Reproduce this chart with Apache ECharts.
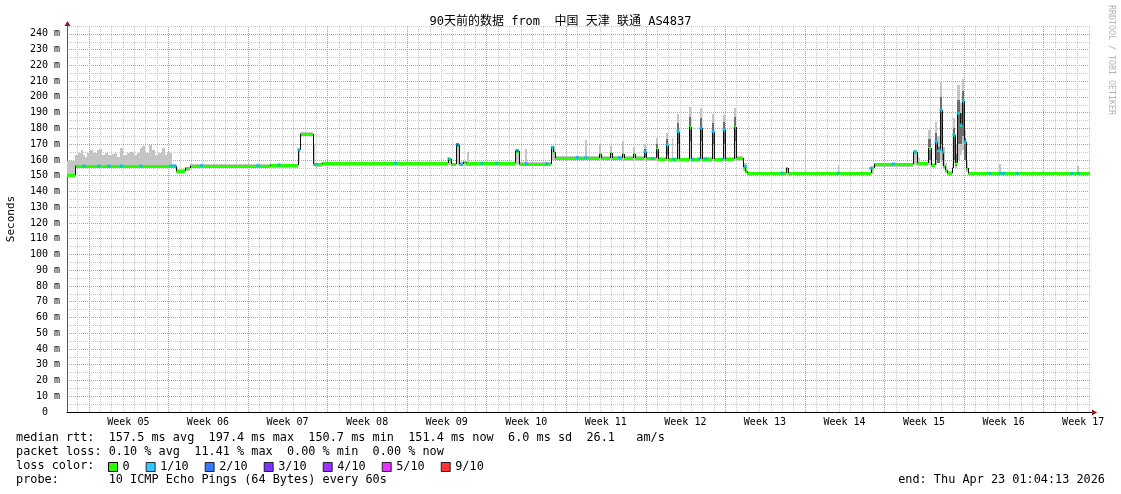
<!DOCTYPE html>
<html><head><meta charset="utf-8">
<script src="https://cdn.jsdelivr.net/npm/echarts@6/dist/echarts.min.js"></script>
<style>html,body{margin:0;padding:0;background:#fff}#c{width:1121px;height:494px}</style>
</head><body><div id="c"></div>
<script>
// ---------------- data ----------------
const titleText = '90天前的数据 from  中国 天津 联通 AS4837';
const weekLabels = ['Week 05','Week 06','Week 07','Week 08','Week 09','Week 10','Week 11','Week 12','Week 13','Week 14','Week 15','Week 16','Week 17'];
const weekStartDays = [1.9, 8.9, 15.9, 22.9, 29.9, 36.9, 43.9, 50.9, 57.9, 64.9, 71.9, 78.9, 85.9];
const firstDayLine = 0.9;
const spanDays = 90;
const yMax = 245;
const lossLabels = ['0','1/10','2/10','3/10','4/10','5/10','9/10'];
const lossColors = ['#26ff00','#00b8ff','#0059ff','#5e00ff','#7e00ff','#dd00ff','#ff0000'];

// median rtt, step change points [day, ms]
const medianSteps = [
 [0,150.7],[0.7,156.2],[9.6,153.2],[10.4,154.6],[10.8,156.4],[17.9,156.9],
 [20.3,166.5],[20.5,176.7],[21.64,157.2],[22.44,158.0],
 [33.52,160.8],[33.8,157.5],[34.22,169.7],[34.49,157.3],[34.84,158.7],[35.1,157.9],
 [39.42,165.9],[39.77,157.7],[42.58,168.0],[42.8,164.8],[42.93,161.5],
 [46.81,163.6],[46.98,161.5],[47.77,164.2],[47.95,161.5],[48.83,164.0],[49.0,161.3],
 [49.8,163.8],[49.97,161.3],[50.77,165.3],[50.94,161.0],[51.82,167.0],[52.0,160.8],
 [52.7,169.5],[52.88,160.5],[53.67,178.0],[53.85,160.3],[54.73,181.2],[54.9,160.5],
 [55.69,180.1],[55.87,160.7],[56.75,178.0],[56.92,160.5],[57.72,179.0],[57.89,160.8],
 [58.68,180.7],[58.86,161.3],[59.48,155.8],[59.62,153.0],[59.83,151.6],
 [63.26,154.7],[63.44,151.7],[70.74,154.7],[71.0,157.5],
 [74.43,165.3],[74.78,157.9],[75.75,167.4],[76.02,156.8],[76.37,171.6],[76.55,166.3],
 [76.81,191.7],[76.99,165.0],[77.08,156.0],[77.25,153.6],[77.43,151.5],[77.86,154.6],
 [77.95,175.9],[78.12,157.9],[78.3,189.6],[78.57,182.2],[78.74,197.4],[78.92,171.6],
 [79.1,154.7],[79.27,151.5],[90,151.4]
];

// smoke envelope (min..max of the pings), step change points [day, lo, hi]
const smokeLight = [
 [0,149.5,159.0],
 [0.7,154.7,163.2],[1.0,154.7,164.2],[1.2,154.7,166.3],[1.38,154.7,163.2],[1.58,154.7,162.1],
 [1.73,154.7,164.2],[2.02,154.7,166.3],[2.32,154.7,164.2],[2.61,154.7,166.3],[2.85,154.7,166.8],
 [3.05,154.7,163.2],[3.34,154.7,164.6],[3.64,154.7,163.2],[3.93,154.7,163.8],[4.22,154.7,164.6],
 [4.43,154.7,162.1],[4.66,154.7,167.8],[4.95,154.7,163.2],[5.25,154.7,164.2],[5.54,154.7,165.3],
 [5.89,154.7,163.2],[6.13,154.7,164.2],[6.42,154.7,167.8],[6.57,154.7,168.9],[6.86,154.7,164.2],
 [7.24,154.7,169.5],[7.45,154.7,166.3],[7.74,154.7,163.2],[8.03,154.7,164.2],[8.33,154.7,167.8],
 [8.62,154.7,163.2],[8.77,154.7,165.3],[9.06,154.7,164.2],
 [9.24,154.8,157.6],[9.6,151.8,154.5],[10.4,153.2,155.8],[10.8,154.6,157.2],[17.9,155.0,157.6],
 [20.3,158.0,167.0],[20.5,175.5,177.6],[21.64,156.0,170.0],[21.8,155.5,158.0],[22.44,156.2,158.7],
 [33.52,157.0,161.5],[33.8,156.0,158.3],[34.22,157.0,170.5],[34.49,156.0,158.7],[35.2,156.2,164.9],[35.4,156.2,158.7],
 [39.42,157.0,166.5],[39.77,156.0,158.5],[40.3,156.0,167.0],[40.45,156.0,158.5],
 [42.58,160.0,169.0],[42.93,159.8,162.4],[45.6,159.8,172.7],[45.75,159.8,162.4],
 [46.81,160.0,170.0],[46.98,159.8,162.4],[47.77,160.0,168.9],[47.95,159.8,162.4],
 [48.83,160.0,172.0],[49.0,159.6,162.2],[49.8,160.0,168.5],[49.97,159.6,162.2],
 [50.77,160.0,170.0],[50.94,159.3,162.0],[51.82,159.5,173.7],[52.0,159.0,161.8],
 [52.7,159.0,177.3],[52.88,158.8,161.5],[53.2,159.0,173.7],[53.35,158.8,161.5],
 [53.67,158.5,189.2],[53.85,158.5,161.3],[54.73,159.0,193.8],[54.9,158.8,161.5],
 [55.69,159.0,192.8],[55.87,158.8,161.6],[56.75,159.0,189.0],[56.92,158.8,161.5],
 [57.72,159.0,188.6],[57.89,159.0,161.8],[58.68,159.5,193.2],[58.86,159.5,162.3],
 [59.48,153.0,158.0],[59.83,150.2,152.5],
 [63.26,150.5,155.5],[63.44,150.2,152.5],[64.9,150.5,162.5],[65.05,150.2,152.5],
 [67.8,150.5,157.0],[67.95,150.2,152.5],[70.74,151.0,156.0],[71.0,155.6,158.3],
 [74.43,157.0,166.0],[74.78,156.3,161.0],[75.0,156.0,158.6],[75.75,157.0,179.0],[76.02,155.3,158.0],
 [76.37,157.0,184.3],[76.55,158.0,175.0],[76.81,160.0,209.7],[76.99,157.0,185.0],[77.08,154.0,168.0],
 [77.25,152.0,158.0],[77.43,150.3,153.0],[77.86,152.0,158.0],[77.95,158.0,186.4],[78.12,155.0,170.0],
 [78.3,160.0,207.6],[78.57,163.0,196.0],[78.74,166.0,211.2],[78.92,162.0,179.0],[79.1,152.5,160.0],
 [79.27,150.2,152.5],[82.0,150.5,157.5],[82.15,150.2,152.5],[88.9,150.5,156.2],[89.05,150.2,152.5]
];

// dense smoke core [dayFrom, dayTo, lo, hi]
const smokeDark = [
 [50.77,50.94,162,167],[51.82,52.0,162,170],[52.7,52.88,163,173.5],
 [53.67,53.85,170,183.5],[54.73,54.9,172,187.5],[55.69,55.87,172,186.5],
 [56.75,56.92,170,183.5],[57.72,57.89,170,184],[58.68,58.86,172,187],
 [75.75,76.02,160,173],[76.37,76.55,160,177],[76.55,76.81,158,168],[76.81,76.99,170,200],
 [76.99,77.08,160,176],[77.95,78.12,160,180],[78.12,78.3,156,164],[78.3,78.57,170,198],
 [78.57,78.74,170,190],[78.74,78.92,175,204],[78.92,79.1,160,174]
];

// samples with packet loss [day, ms, lossLevelIndex]
const lossDots = [
 [1.5,156.2,1],[2.8,156.2,1],[3.7,156.2,1],[4.8,156.2,1],[6.5,156.2,1],[9.15,156.2,1],[9.5,156.2,1],
 [11.85,156.4,1],[16.8,156.4,1],[18.65,156.9,1],[20.4,166.5,1],[21.9,157.2,1],[28.9,158.0,1],
 [33.6,160.8,1],[34.35,169.7,2],[34.7,157.3,1],[36.5,157.9,1],[37.8,157.9,1],[39.6,165.9,2],
 [40.4,157.7,1],[42.2,157.7,1],[42.7,168.0,1],[44.9,161.5,1],[45.65,161.5,1],[48.57,161.5,1],
 [50.85,165.3,1],[51.5,161.0,1],[52.8,169.5,1],[53.4,160.5,1],[53.76,178.0,1],[55.05,160.5,1],
 [55.6,160.7,1],[55.78,180.1,1],[56.2,160.7,1],[56.84,178.0,1],[57.7,160.5,1],[57.8,179.0,1],
 [59.7,155.8,1],[62.9,151.7,1],[67.85,151.7,1],[70.7,154.7,1],[72.7,157.5,1],[74.6,165.3,1],
 [76.46,171.6,1],[76.72,166.3,1],[76.9,191.7,1],[77.04,165.0,1],[78.03,175.9,1],[78.41,189.6,1],
 [78.65,182.2,1],[78.83,197.4,1],[79.01,171.6,1],[81.2,151.5,1],[82.1,151.5,1],[82.4,151.5,1],
 [83.6,151.5,1],[88.4,151.5,1],[89.0,151.5,1]
];

const statsLines = [
 'median rtt:  157.5 ms avg  197.4 ms max  150.7 ms min  151.4 ms now  6.0 ms sd  26.1   am/s',
 'packet loss: 0.10 % avg  11.41 % max  0.00 % min  0.00 % now',
 'loss color:',
 'probe:       10 ICMP Echo Pings (64 Bytes) every 60s'
];
const endText = 'end: Thu Apr 23 01:04:13 2026';
const watermark = 'RRDTOOL / TOBI OETIKER';

// ---------------- build ----------------
const MONO = '"DejaVu Sans Mono", monospace';
const MAJOR = '#e58a8a', MINOR = '#c9c9c9';
const chart = echarts.init(document.getElementById('c'), null, {renderer: 'canvas'});

const gridDays = [];
for (let k = 0; firstDayLine + k < spanDays; k++) {
  const d = +(firstDayLine + k).toFixed(2);
  const major = weekStartDays.some(w => Math.abs(w - d) < 0.01) ? 1 : 0;
  gridDays.push([d, major]);
}
const lightSegs = smokeLight.map((p, i) => [p[0], i + 1 < smokeLight.length ? smokeLight[i + 1][0] : spanDays, p[1], p[2]]);
const medSegs = [];
for (let i = 0; i + 1 < medianSteps.length; i++) medSegs.push([medianSteps[i][0], medianSteps[i + 1][0], medianSteps[i][1]]);
const medVerts = [];
for (let i = 1; i < medianSteps.length; i++) medVerts.push([medianSteps[i][0], medianSteps[i - 1][1], medianSteps[i][1]]);
const weekCenters = weekStartDays.map(d => +(d + 3.5).toFixed(2));

function rectRender(color) {
  return function (params, api) {
    const a = api.coord([api.value(0), api.value(3)]);
    const b = api.coord([api.value(1), api.value(2)]);
    const x0 = Math.round(a[0]);
    const x1 = Math.max(x0 + 1, Math.round(b[0]));
    const y0 = Math.round(a[1]), y1 = Math.round(b[1]);
    return {type: 'rect', shape: {x: x0, y: y0, width: x1 - x0, height: Math.max(1, y1 - y0)}, style: {fill: color}};
  };
}

const series = [
  { // vertical grid
    type: 'custom', silent: true, z: 1, encode: {x: 0},
    data: gridDays,
    renderItem(params, api) {
      const p0 = api.coord([api.value(0), 0]);
      const p1 = api.coord([api.value(0), yMax]);
      const x = Math.round(p0[0]) + 0.5;
      return {type: 'line', shape: {x1: x, y1: p0[1], x2: x, y2: p1[1]},
        style: {stroke: api.value(1) ? MAJOR : MINOR, lineWidth: 1, lineDash: [1, 1]}};
    }
  },
  {type: 'custom', silent: true, z: 2, encode: {x: [0, 1], y: [2, 3]}, data: lightSegs, renderItem: rectRender('#c4c4c4')},
  {type: 'custom', silent: true, z: 3, encode: {x: [0, 1], y: [2, 3]}, data: smokeDark, renderItem: rectRender('#6e6e6e')},
  {
    name: lossLabels[0], type: 'custom', silent: true, z: 4, encode: {x: [0, 1], y: 2},
    itemStyle: {color: lossColors[0]}, data: medSegs,
    renderItem(params, api) {
      const a = api.coord([api.value(0), api.value(2)]);
      const b = api.coord([api.value(1), api.value(2)]);
      const x0 = Math.round(a[0]);
      const x1 = Math.max(x0 + 1, Math.round(b[0]));
      const y = Math.round(a[1]) - 1;
      return {type: 'rect', shape: {x: x0, y: y, width: x1 - x0, height: 3}, style: {fill: lossColors[0]}};
    }
  },
  {
    type: 'custom', silent: true, z: 5, encode: {x: 0, y: [1, 2]}, data: medVerts,
    renderItem(params, api) {
      const a = api.coord([api.value(0), api.value(1)]);
      const b = api.coord([api.value(0), api.value(2)]);
      const x = Math.round(a[0]) + 0.5;
      return {type: 'line', shape: {x1: x, y1: Math.round(a[1]), x2: x, y2: Math.round(b[1])}, style: {stroke: '#111', lineWidth: 1}};
    }
  }
];
for (let li = 1; li < lossLabels.length; li++) {
  series.push({
    name: lossLabels[li], type: 'scatter', symbol: 'rect', symbolSize: [3, 3], z: 6, silent: true,
    itemStyle: {color: lossColors[li]},
    data: lossDots.filter(p => p[2] === li).map(p => [p[0], p[1]])
  });
}

const option = {
  animation: false,
  backgroundColor: '#fff',
  title: {text: titleText, left: 'center', top: 16, padding: 0,
    textStyle: {fontFamily: '"DejaVu Sans Mono","Noto Sans CJK SC"', fontSize: 12, fontWeight: 'normal', color: '#000'}},
  grid: {left: 67, right: 31, top: 26, bottom: 82, outerBoundsMode: 'none', containLabel: false},
  legend: {
    left: 108, top: 461, padding: 0, itemWidth: 9, itemHeight: 9, itemGap: 16, selectedMode: false,
    icon: 'rect', textStyle: {fontFamily: MONO, fontSize: 11.85, color: '#000'},
    data: lossLabels.map((n, i) => ({name: n, icon: 'rect', itemStyle: {color: lossColors[i], borderColor: '#000', borderWidth: 1}}))
  },
  xAxis: {
    type: 'value', min: 0, max: spanDays,
    splitLine: {show: false}, axisTick: {show: false},
    axisLine: {show: true, onZero: false, lineStyle: {color: '#000', width: 1}},
    axisLabel: {
      customValues: weekCenters, margin: 5, fontFamily: MONO, fontSize: 10, color: '#000',
      formatter: v => { const i = weekCenters.findIndex(c => Math.abs(c - v) < 0.01); return i >= 0 ? weekLabels[i] : ''; }
    }
  },
  yAxis: {
    type: 'value', min: 0, max: yMax, interval: 5,
    name: 'Seconds', nameLocation: 'middle', nameRotate: 90, nameGap: 50,
    nameTextStyle: {fontFamily: MONO, fontSize: 11, color: '#000'},
    axisLine: {show: true, lineStyle: {color: '#555', width: 1}},
    axisTick: {show: false},
    splitLine: {show: true, lineStyle: {color: [MAJOR, MINOR], width: 1, type: [1, 1]}},
    axisLabel: {margin: 7, fontFamily: MONO, fontSize: 10, color: '#000',
      formatter: v => v === 0 ? '0  ' : (v % 10 === 0 ? v + ' m' : '')}
  },
  series: series
};
chart.setOption(option);

const pTop = chart.convertToPixel({gridIndex: 0}, [0, yMax]);
const pRight = chart.convertToPixel({gridIndex: 0}, [spanDays, 0]);
const ax = Math.round(pTop[0]) + 0.5, ay = Math.round(pRight[1]) + 0.5;
const graphics = [
  {type: 'polygon', silent: true, shape: {points: [[ax - 3, pTop[1]], [ax + 3, pTop[1]], [ax, pTop[1] - 5]]}, style: {fill: '#8b1a1a'}},
  {type: 'line', silent: true, shape: {x1: pRight[0], y1: ay, x2: pRight[0] + 3, y2: ay}, style: {stroke: '#000', lineWidth: 1}},
  {type: 'polygon', silent: true, shape: {points: [[pRight[0] + 2, ay - 3], [pRight[0] + 2, ay + 3], [pRight[0] + 7, ay]]}, style: {fill: '#8b1a1a'}},
  {type: 'text', silent: true, x: 1111, y: 5, rotation: -Math.PI / 2,
    style: {text: watermark, font: '8.3px ' + MONO, fill: '#b4b4b4', align: 'left', verticalAlign: 'middle'}},
  {type: 'text', silent: true, x: 1105, y: 480,
    style: {text: endText, font: '11.85px ' + MONO, fill: '#000', align: 'right', verticalAlign: 'middle'}}
];
statsLines.forEach((t, i) => graphics.push({type: 'text', silent: true, x: 16, y: 438 + i * 14,
  style: {text: t, font: '11.85px ' + MONO, fill: '#000', align: 'left', verticalAlign: 'middle'}}));
chart.setOption({graphic: graphics});
</script></body></html>
